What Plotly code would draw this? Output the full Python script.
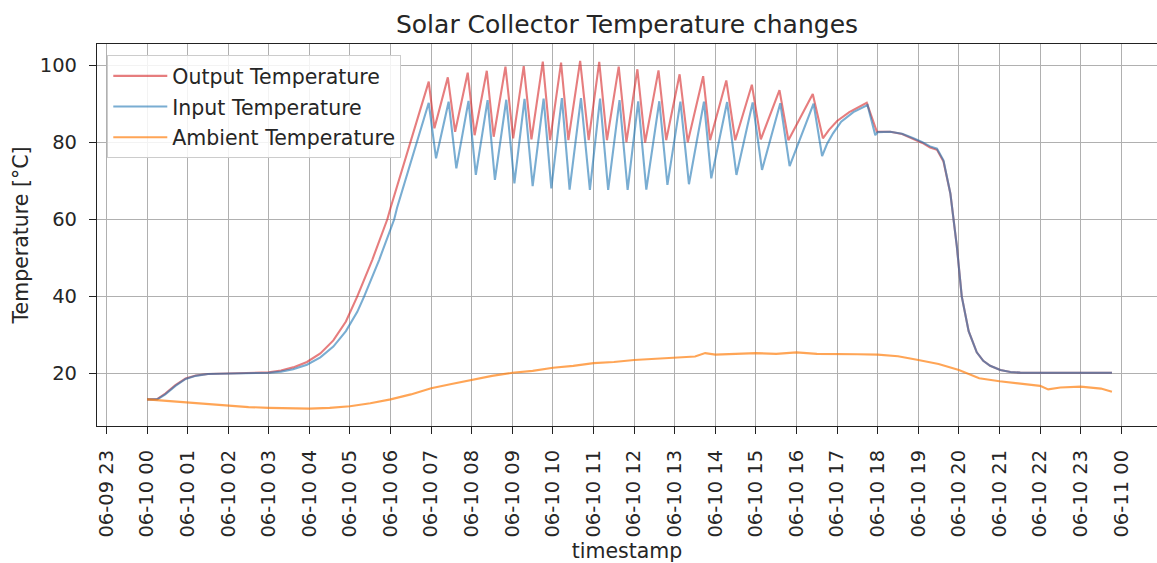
import pandas as pd
import plotly.graph_objects as go

BASE = pd.Timestamp("2021-06-10 00:00")

# ---- Output temperature (hours after 06-10 00:00, °C)
out_hours = [0.0, 0.25, 0.45, 0.7, 0.95, 1.2, 1.5, 2.0, 2.5, 3.0, 3.3, 3.6, 3.94, 4.27, 4.59, 4.9,
             5.18, 5.55, 5.92, 6.0, 6.94,
             7.08, 7.41, 7.59, 7.90, 8.07, 8.37, 8.54, 8.83, 9.02, 9.28, 9.47, 9.75, 9.93, 10.20,
             10.38, 10.67, 10.88, 11.14, 11.33, 11.62, 11.81, 12.08, 12.27, 12.60, 12.79, 13.12,
             13.32, 13.70, 13.87, 14.27, 14.49, 14.90, 15.12, 15.58, 15.80, 16.40, 16.65,
             16.8, 17.0, 17.3, 17.5, 17.73, 17.98, 18.31, 18.6, 18.88, 19.1, 19.29, 19.46, 19.62,
             19.79, 19.95, 20.07, 20.24, 20.44, 20.6, 20.77, 21.02, 21.27, 21.51, 22.0, 23.0, 23.77]
out_vals = [13.3, 13.4, 14.8, 17.0, 18.7, 19.5, 19.9, 20.0, 20.1, 20.3, 20.8, 21.6, 23.0, 25.2, 28.6, 33.5,
            40.0, 49.5, 60.0, 63.0, 95.7,
            83.6, 96.8, 82.7, 98.0, 81.8, 98.5, 81.4, 99.6, 81.0, 99.7, 80.7, 100.9, 80.5, 100.6,
            80.5, 101.1, 80.5, 100.8, 80.5, 99.6, 80.0, 98.9, 79.9, 98.6, 80.5, 97.6,
            80.0, 97.1, 80.5, 96.0, 80.5, 94.9, 80.7, 93.5, 80.5, 92.5, 81.0,
            83.2, 85.5, 87.8, 89.0, 90.2, 82.7, 82.7, 82.1, 80.8, 79.8, 78.6, 78.0, 75.0,
            66.7, 52.9, 40.0, 31.0, 25.5, 23.3, 22.0, 20.9, 20.4, 20.25, 20.2, 20.2, 20.2]

# ---- Input temperature
in_hours = [0.0, 0.25, 0.45, 0.7, 0.95, 1.2, 1.5, 2.0, 2.5, 3.0, 3.3, 3.6, 3.94, 4.27, 4.59, 4.9,
            5.18, 5.35, 5.72, 6.09, 6.16, 6.94,
            7.12, 7.43, 7.62, 7.92, 8.10, 8.39, 8.57, 8.85, 9.05, 9.30, 9.50, 9.77, 9.96, 10.22,
            10.41, 10.69, 10.91, 11.16, 11.36, 11.64, 11.84, 12.10, 12.30, 12.62, 12.82, 13.14,
            13.35, 13.72, 13.90, 14.29, 14.52, 14.92, 15.15, 15.60, 15.83, 16.42, 16.63,
            16.75, 16.9, 17.1, 17.4, 17.75, 17.94, 18.0, 18.31, 18.6, 18.88, 19.1, 19.29, 19.46,
            19.62, 19.79, 19.95, 20.07, 20.24, 20.44, 20.6, 20.77, 21.02, 21.27, 21.51, 22.0, 23.0, 23.77]
in_vals = [13.3, 13.3, 14.6, 16.8, 18.6, 19.4, 19.9, 20.0, 20.1, 20.2, 20.5, 21.1, 22.3, 24.2, 27.0, 31.0,
           36.0, 40.0, 49.5, 60.0, 63.0, 90.2,
           75.8, 90.5, 73.2, 90.7, 71.5, 90.9, 70.2, 91.0, 69.3, 91.2, 68.6, 91.3, 68.0, 91.4,
           67.7, 91.4, 67.6, 91.3, 67.6, 90.9, 67.6, 90.6, 67.7, 90.6, 68.9, 90.5,
           69.1, 90.5, 70.6, 90.4, 71.5, 90.3, 72.8, 90.1, 73.8, 90.0, 76.4,
           79.5, 82.3, 85.3, 87.8, 89.6, 81.8, 82.6, 82.7, 82.2, 81.0, 80.0, 78.9, 78.3,
           75.3, 66.7, 52.9, 40.0, 31.0, 25.5, 23.3, 22.0, 20.9, 20.4, 20.25, 20.2, 20.2, 20.2]

# ---- Ambient temperature
amb_hours = [0.0, 0.5, 1.0, 1.5, 2.0, 2.5, 3.0, 3.5, 4.0, 4.5, 5.0, 5.5, 6.0, 6.5, 7.0, 7.5, 8.0,
             8.5, 9.0, 9.5, 10.0, 10.5, 11.0, 11.5, 12.0, 12.5, 13.0, 13.5, 13.75, 14.0, 14.5,
             15.0, 15.5, 16.0, 16.5, 17.0, 17.5, 18.0, 18.5, 19.0, 19.5, 20.0, 20.5, 21.0,
             21.5, 22.0, 22.2, 22.5, 23.0, 23.5, 23.77]
amb_vals = [13.3, 12.9, 12.4, 12.1, 11.7, 11.3, 11.1, 11.0, 10.9, 11.1, 11.5, 12.3, 13.3, 14.6, 16.2,
            17.3, 18.3, 19.4, 20.2, 20.7, 21.5, 22.0, 22.7, 23.0, 23.5, 23.8, 24.2, 24.4, 25.3, 24.9,
            25.1, 25.3, 25.1, 25.5, 25.1, 25.1, 25.0, 24.9, 24.5, 23.5, 22.5, 20.9, 18.8, 18.0,
            17.4, 16.8, 15.9, 16.4, 16.6, 16.1, 15.3]

# axis settings
x_range_hours = [-1.232, 24.88]
y_range = [6.4, 105.45]
y_ticks = [20, 40, 60, 80, 100]


def ts(hours):
    return BASE + pd.to_timedelta(hours, unit="h")


FONT = "DejaVu Sans"
fig = go.Figure()
series = [
    ("Output Temperature", out_hours, out_vals, "rgba(214,39,40,0.6)"),
    ("Input Temperature", in_hours, in_vals, "rgba(31,119,180,0.6)"),
    ("Ambient Temperature", amb_hours, amb_vals, "rgba(255,127,14,0.7)"),
]
for name, h, v, c in series:
    fig.add_trace(go.Scatter(x=ts(h), y=v, mode="lines", name=name, legendgroup=name,
                             line=dict(color=c, width=2.1)))

fig.update_layout(
    width=1157, height=563,
    margin=dict(l=97, r=0, t=44, b=137),
    plot_bgcolor="white", paper_bgcolor="white",
    font=dict(family=FONT, size=19.5, color="#262626"),
    title=dict(text="Solar Collector Temperature changes", x=0.5, xref="paper", xanchor="center",
               y=1 - 24 / 563, yref="container", yanchor="middle",
               font=dict(size=25, color="#262626")),
    legend=dict(x=0.0097, y=0.971, xanchor="left", yanchor="top",
                bgcolor="rgba(255,255,255,0.85)", bordercolor="#cccccc", borderwidth=1,
                font=dict(size=20.5), tracegroupgap=1, itemwidth=54),
    showlegend=True,
)
fig.update_xaxes(
    type="date",
    range=[ts(x_range_hours[0]), ts(x_range_hours[1])],
    tick0=BASE, dtick=3600000, tickformat="%m-%d %H", tickangle=-90,
    showgrid=True, gridcolor="#b0b0b0", gridwidth=1,
    showline=True, linecolor="#222", linewidth=1.2, mirror=True,
    ticks="outside", ticklen=7, tickcolor="#222", tickwidth=1.2, ticklabelstandoff=8,
    tickfont=dict(size=19.5),
    zeroline=False, automargin=False,
    title=dict(text="timestamp", font=dict(size=20.5), standoff=10),
)
fig.update_yaxes(
    range=y_range, tickvals=y_ticks,
    showgrid=True, gridcolor="#b0b0b0", gridwidth=1,
    showline=True, linecolor="#222", linewidth=1.2, mirror=False,
    ticks="outside", ticklen=7, tickcolor="#222", tickwidth=1.2, ticklabelstandoff=8,
    tickfont=dict(size=19.5),
    zeroline=False, automargin=False,
    title=dict(text="Temperature [°C]", font=dict(size=20.5), standoff=5),
)

fig.write_html("out.html")
